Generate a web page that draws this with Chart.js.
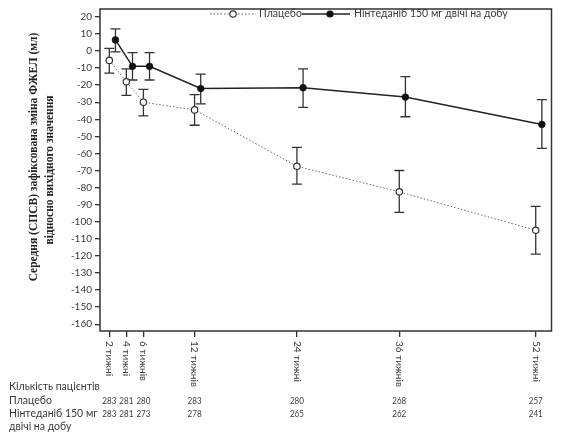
<!DOCTYPE html>
<html>
<head>
<meta charset="utf-8">
<script src="https://cdn.jsdelivr.net/npm/chart.js@4"></script>
<style>
  html, body { margin: 0; padding: 0; background: #fff; }
  #wrap { width: 571px; height: 441px; }
</style>
</head>
<body>
<div id="wrap"><canvas id="chart" width="571" height="441"></canvas></div>
<script>
// --- дані з графіка ---
const weeks = [2, 4, 6, 12, 24, 36, 52];
const weekLabels = ['2 тижні', '4 тижні', '6 тижнів', '12 тижнів', '24 тижні', '36 тижнів', '52 тижні'];

const placeboMean  = [-5.5, -18, -30, -34.5, -67.5, -82.5, -105];
const placeboUpper = [1.5, -10.5, -22.5, -25.5, -56.5, -70, -91];
const placeboLower = [-13, -26, -38, -43.5, -78, -94.5, -119];

const nintMean  = [6.5, -9, -9, -22, -21.5, -27, -43];
const nintUpper = [13, -1, -1, -13.5, -10.5, -15, -28.5];
const nintLower = [-0.5, -17, -17, -31, -33, -38.5, -57];

const patientsPlacebo = [283, 281, 280, 283, 280, 268, 257];
const patientsNint    = [283, 281, 273, 278, 265, 262, 241];

const yTicks = [20, 10, 0, -10, -20, -30, -40, -50, -60, -70, -80, -90, -100,
                -110, -120, -130, -140, -150, -160];

const yTitle = ['Середня (СПСВ) зафіксована зміна ФЖЕЛ (мл)', 'відносно вихідного значення'];
const legendPlacebo = 'Плацебо';
const legendNint = 'Нінтеданіб 150 мг двічі на добу';
const tableRows = ['Кількість пацієнтів', 'Плацебо', 'Нінтеданіб 150 мг', 'двічі на добу'];

// зсув точок нінтеданібу праворуч (у тижнях), щоб не перекривались
const NINT_SHIFT = 0.72;

const INK = '#333';
const TXT = '#3a3a3a';
const SANS = 'Lato, "Open Sans", sans-serif';

const placeboPts = weeks.map((w, i) => ({ x: w, y: placeboMean[i], hi: placeboUpper[i], lo: placeboLower[i] }));
const nintPts = weeks.map((w, i) => ({ x: w + NINT_SHIFT, y: nintMean[i], hi: nintUpper[i], lo: nintLower[i] }));

// вуса похибок
const errorBars = {
    id: 'errorBars',
    beforeDatasetsDraw(chart) {
        const { ctx, scales: { x, y } } = chart;
        ctx.save();
        ctx.strokeStyle = INK;
        ctx.lineWidth = 1.3;
        [placeboPts, nintPts].forEach(pts => {
            pts.forEach(p => {
                const px = x.getPixelForValue(p.x);
                const top = y.getPixelForValue(p.hi);
                const bot = y.getPixelForValue(p.lo);
                ctx.beginPath();
                ctx.moveTo(px, top); ctx.lineTo(px, bot);
                ctx.moveTo(px - 5, top); ctx.lineTo(px + 5, top);
                ctx.moveTo(px - 5, bot); ctx.lineTo(px + 5, bot);
                ctx.stroke();
            });
        });
        ctx.restore();
    }
};

// рамка, легенда, підписи осі X, назва осі Y, таблиця пацієнтів
const decorations = {
    id: 'decorations',
    afterDraw(chart) {
        const { ctx, chartArea: a, scales: { x } } = chart;
        ctx.save();

        ctx.strokeStyle = INK;
        ctx.lineWidth = 1.5;
        ctx.strokeRect(a.left, a.top, a.right - a.left, a.bottom - a.top);

        // легенда
        const ly = 14;
        ctx.lineWidth = 1;
        ctx.strokeStyle = '#666';
        ctx.setLineDash([1.5, 2]);
        ctx.beginPath(); ctx.moveTo(210, ly); ctx.lineTo(256, ly); ctx.stroke();
        ctx.setLineDash([]);
        ctx.fillStyle = '#fff';
        ctx.strokeStyle = INK;
        ctx.lineWidth = 1.2;
        ctx.beginPath(); ctx.arc(233, ly, 3.2, 0, Math.PI * 2); ctx.fill(); ctx.stroke();
        ctx.lineWidth = 1.5;
        ctx.strokeStyle = '#222';
        ctx.beginPath(); ctx.moveTo(302, ly); ctx.lineTo(350, ly); ctx.stroke();
        ctx.fillStyle = '#111';
        ctx.beginPath(); ctx.arc(330, ly, 3.6, 0, Math.PI * 2); ctx.fill();
        ctx.fillStyle = TXT;
        ctx.font = '10.5px ' + SANS;
        ctx.textBaseline = 'middle';
        ctx.textAlign = 'left';
        ctx.fillText(legendPlacebo, 259, ly);
        ctx.fillText(legendNint, 354, ly);

        // підписи тижнів (повернуті за годинниковою стрілкою)
        ctx.font = '10px ' + SANS;
        weeks.forEach((w, i) => {
            const px = x.getPixelForValue(w);
            ctx.save();
            ctx.translate(px, a.bottom + 10);
            ctx.rotate(Math.PI / 2);
            ctx.textAlign = 'left';
            ctx.textBaseline = 'middle';
            ctx.fillText(weekLabels[i], 0, 0);
            ctx.restore();
        });

        // таблиця кількості пацієнтів
        const rowY = [387, 400.5, 413.5, 426.5];
        ctx.font = '10.5px ' + SANS;
        ctx.textAlign = 'left';
        tableRows.forEach((t, i) => ctx.fillText(t, 9, rowY[i]));
        // вузькі цифри, як у Calibri
        ctx.font = '9.5px ' + SANS;
        ctx.textAlign = 'center';
        weeks.forEach((w, i) => {
            const px = x.getPixelForValue(w);
            [[patientsPlacebo[i], rowY[1]], [patientsNint[i], rowY[2]]].forEach(([n, ry]) => {
                ctx.save();
                ctx.translate(px, ry);
                ctx.scale(0.85, 1);
                ctx.fillText(String(n), 0, 0);
                ctx.restore();
            });
        });

        // назва осі Y
        ctx.fillStyle = '#222';
        ctx.font = 'bold 11.5px "Liberation Serif", "DejaVu Serif", serif';
        ctx.textAlign = 'center';
        ctx.textBaseline = 'middle';
        [[34, 157], [50, 170]].forEach((pos, i) => {
            ctx.save();
            ctx.translate(pos[0], pos[1]);
            ctx.rotate(-Math.PI / 2);
            ctx.fillText(yTitle[i], 0, 0);
            ctx.restore();
        });

        ctx.restore();
    }
};

new Chart(document.getElementById('chart'), {
    type: 'line',
    data: {
        datasets: [{
            label: legendPlacebo,
            data: placeboPts,
            borderColor: '#666',
            borderWidth: 1,
            borderDash: [1.5, 2],
            pointRadius: 3.2,
            pointBackgroundColor: '#fff',
            pointBorderColor: INK,
            pointBorderWidth: 1.2,
            tension: 0
        }, {
            label: legendNint,
            data: nintPts,
            borderColor: '#222',
            borderWidth: 1.5,
            pointRadius: 3.4,
            pointBackgroundColor: '#111',
            pointBorderColor: '#111',
            pointBorderWidth: 0.5,
            tension: 0
        }]
    },
    options: {
        responsive: false,
        animation: false,
        devicePixelRatio: 1,
        layout: { padding: { left: 0, top: 1, right: 19.5, bottom: 0 } },
        plugins: { legend: { display: false }, tooltip: { enabled: false } },
        scales: {
            x: {
                type: 'linear',
                min: 0.91,
                max: 53.85,
                afterBuildTicks: s => { s.ticks = weeks.map(v => ({ value: v })); },
                afterFit: s => { s.height = 110; },
                ticks: { display: false },
                grid: { drawOnChartArea: false, drawTicks: true, tickLength: 6, color: INK, lineWidth: 1.3 },
                border: { display: false }
            },
            y: {
                min: -164,
                max: 24.6,
                afterBuildTicks: s => { s.ticks = yTicks.map(v => ({ value: v })); },
                afterFit: s => { s.width = 100; },
                ticks: { color: TXT, padding: 3, font: { family: SANS, size: 10 } },
                grid: { drawOnChartArea: false, drawTicks: true, tickLength: 5, color: INK, lineWidth: 1.3 },
                border: { display: false }
            }
        }
    },
    plugins: [errorBars, decorations]
});
</script>
</body>
</html>
